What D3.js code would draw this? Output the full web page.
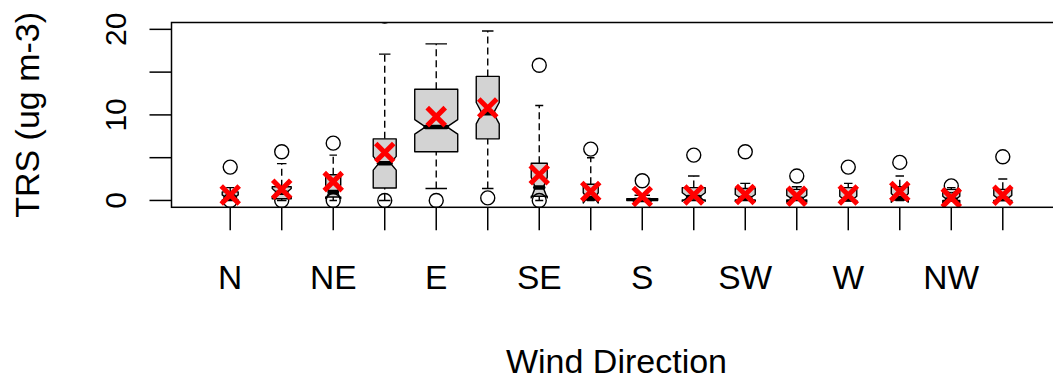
<!DOCTYPE html>
<html>
<head>
<meta charset="utf-8">
<script src="https://cdn.jsdelivr.net/npm/d3@7.9.0/dist/d3.min.js"></script>
<style>
  body { margin: 0; background: #fff; }
  svg { display: block; font-family: 'Liberation Sans', Arial, sans-serif; }
</style>
</head>
<body>
<div id="chart"></div>
<script>
// wind direction sectors, one box each
const directions = ['N', 'NNE', 'NE', 'ENE', 'E', 'ESE', 'SE', 'SSE', 'S', 'SSW', 'SW', 'WSW', 'W', 'WNW', 'NW', 'NNW'];
// only every other label fits, as in the R plot
const shownLabels = ['N', 'NE', 'E', 'SE', 'S', 'SW', 'W', 'NW'];

// box stats (ug m-3)
const whiskerLow  = [0,    0,    0,    0,    1.4,  1.4,  0,    0,    0,    0,    0,    0,    0,    0,    0,    0];
const lowerQ      = [0.05, 0.2,  0.4,  1.45, 5.7,  7.2,  0.5,  0.05, 0,    0.05, 0.05, 0.05, 0,    0.05, 0,    0];
const medians     = [0.3,  0.9,  1.0,  4.35, 8.6,  10.2, 1.5,  0.3,  0.05, 0.4,  0.3,  0.2,  0.1,  0.3,  0.1,  0.2];
const upperQ      = [1.0,  1.6,  3.0,  7.2,  13.0, 14.5, 4.35, 1.9,  0.2,  1.5,  1.4,  1.3,  1.5,  1.6,  1.3,  1.3];
const whiskerHigh = [1.5,  4.3,  5.3,  17.1, 18.3, 19.8, 11.1, 5.0,  0.6,  2.85, 2.0,  1.6,  2.0,  2.85, 1.5,  2.5];
const notchHalf   = [0.35, 0.5,  0.8,  0.8,  0.85, 1.25, 1.2,  0.6,  0.05, 0.5,  0.4,  0.4,  0.4,  0.5,  0.4,  0.4];
const means       = [0.65, 1.3,  2.2,  5.6,  9.8,  10.8, 3.0,  1.05, 0.45, 0.65, 0.7,  0.5,  0.65, 1.05, 0.3,  0.6];
const outliers    = [[0, 3.9], [0, 5.7], [0, 6.7], [0, 21.55], [0], [0.3], [0, 15.8], [6.0], [2.3],
                     [5.3], [5.7], [2.85], [3.9], [4.45], [1.7], [5.1]];
// relative box widths (varwidth)
const boxWidths   = [16, 19, 15, 23, 43, 23, 16, 15, 31, 23, 20, 20, 17, 17, 17, 18];

const yTicks = [0, 5, 10, 15, 20];
const yTickLabels = [0, 10, 20];

const width = 1053;
const height = 380;

const svg = d3.select('#chart')
  .append('svg')
  .attr('width', width)
  .attr('height', height);

// R: xlim = c(0.5, 16.5) extended by 4%, ylim = c(0, 20) extended by 4%
const xScale = d3.scaleLinear().domain([-0.14, 17.14]).range([171.5, 1061.5]);
const yScale = d3.scaleLinear().domain([-0.8, 20.8]).range([207.3, 22.5]);

const plot = { left: xScale.range()[0], right: xScale.range()[1], top: yScale.range()[1], bottom: yScale.range()[0] };

svg.append('defs').append('clipPath').attr('id', 'plot-clip')
  .append('rect')
  .attr('x', plot.left).attr('y', plot.top)
  .attr('width', plot.right - plot.left).attr('height', plot.bottom - plot.top);

const boxes = directions.map((dir, i) => ({
  dir,
  x: xScale(i + 1),
  lo: whiskerLow[i],
  q1: lowerQ[i],
  med: medians[i],
  q3: upperQ[i],
  hi: whiskerHigh[i],
  nLo: medians[i] - notchHalf[i],
  nHi: medians[i] + notchHalf[i],
  mean: means[i],
  out: outliers[i],
  wid: boxWidths[i] / 2,
}));

const g = svg.append('g').attr('clip-path', 'url(#plot-clip)');

const box = g.selectAll('g.box')
  .data(boxes)
  .join('g')
  .attr('class', 'box');

// whiskers (dashed)
box.append('line')
  .attr('x1', d => d.x).attr('x2', d => d.x)
  .attr('y1', d => yScale(d.lo)).attr('y2', d => yScale(d.q1))
  .attr('stroke', '#000').attr('stroke-width', 1.4).attr('stroke-dasharray', '7,4');
box.append('line')
  .attr('x1', d => d.x).attr('x2', d => d.x)
  .attr('y1', d => yScale(d.q3)).attr('y2', d => yScale(d.hi))
  .attr('stroke', '#000').attr('stroke-width', 1.4).attr('stroke-dasharray', '7,4');

// staples
box.selectAll('line.staple')
  .data(d => [d.lo, d.hi].map(v => ({ x: d.x, w: d.wid / 2, v })))
  .join('line')
  .attr('class', 'staple')
  .attr('x1', d => d.x - d.w).attr('x2', d => d.x + d.w)
  .attr('y1', d => yScale(d.v)).attr('y2', d => yScale(d.v))
  .attr('stroke', '#000').attr('stroke-width', 1.4);

// notched box, same vertex order as R's bxp
const xOff = [-1, 1, 1, 0.5, 1, 1, -1, -1, -0.5, -1];
box.append('polygon')
  .attr('points', d => {
    const ys = [d.q1, d.q1, d.nLo, d.med, d.nHi, d.q3, d.q3, d.nHi, d.med, d.nLo];
    return ys.map((v, k) => [d.x + xOff[k] * d.wid, yScale(v)].join(',')).join(' ');
  })
  .attr('fill', '#d3d3d3')
  .attr('stroke', '#000')
  .attr('stroke-width', 1.4)
  .attr('stroke-linejoin', 'round');

// median
box.append('line')
  .attr('x1', d => d.x - d.wid / 2).attr('x2', d => d.x + d.wid / 2)
  .attr('y1', d => yScale(d.med)).attr('y2', d => yScale(d.med))
  .attr('stroke', '#000').attr('stroke-width', 4.5).attr('stroke-linecap', 'round');

// outliers, pch = 1
box.selectAll('circle')
  .data(d => d.out.map(v => ({ x: d.x, v })))
  .join('circle')
  .attr('cx', d => d.x)
  .attr('cy', d => yScale(d.v))
  .attr('r', 7)
  .attr('fill', 'none')
  .attr('stroke', '#000')
  .attr('stroke-width', 1.4);

// means, red pch = 4
const s = 9;
box.selectAll('path.mean')
  .data(d => [d])
  .join('path')
  .attr('class', 'mean')
  .attr('d', d => {
    const cx = d.x, cy = yScale(d.mean);
    return `M${cx - s},${cy - s}L${cx + s},${cy + s}M${cx - s},${cy + s}L${cx + s},${cy - s}`;
  })
  .attr('stroke', '#ff0000')
  .attr('stroke-width', 5)
  .attr('fill', 'none');

// plot frame (right side falls outside the window)
svg.append('rect')
  .attr('x', plot.left).attr('y', plot.top)
  .attr('width', plot.right - plot.left).attr('height', plot.bottom - plot.top)
  .attr('fill', 'none').attr('stroke', '#000').attr('stroke-width', 1.5);

// y axis ticks
const tickLen = 22;
svg.selectAll('line.ytick')
  .data(yTicks)
  .join('line')
  .attr('class', 'ytick')
  .attr('x1', plot.left - tickLen).attr('x2', plot.left)
  .attr('y1', d => yScale(d)).attr('y2', d => yScale(d))
  .attr('stroke', '#000').attr('stroke-width', 1.5);

svg.selectAll('text.ylab')
  .data(yTickLabels)
  .join('text')
  .attr('class', 'ylab')
  .attr('transform', d => `translate(126, ${yScale(d)}) rotate(-90)`)
  .attr('text-anchor', 'middle')
  .attr('font-size', 30)
  .text(d => d);

// x axis ticks
svg.selectAll('line.xtick')
  .data(directions)
  .join('line')
  .attr('class', 'xtick')
  .attr('x1', (d, i) => xScale(i + 1)).attr('x2', (d, i) => xScale(i + 1))
  .attr('y1', plot.bottom).attr('y2', plot.bottom + 23)
  .attr('stroke', '#000').attr('stroke-width', 1.5);

svg.selectAll('text.xlab')
  .data(directions)
  .join('text')
  .attr('class', 'xlab')
  .attr('x', (d, i) => xScale(i + 1))
  .attr('y', 289)
  .attr('text-anchor', 'middle')
  .attr('font-size', 33.5)
  .text(d => shownLabels.includes(d) ? d : '');

// axis titles
svg.append('text')
  .attr('x', (plot.left + plot.right) / 2)
  .attr('y', 373)
  .attr('text-anchor', 'middle')
  .attr('font-size', 34)
  .text('Wind Direction');

svg.append('text')
  .attr('transform', `translate(39, ${(plot.top + plot.bottom) / 2}) rotate(-90)`)
  .attr('text-anchor', 'middle')
  .attr('font-size', 34)
  .text('TRS (ug m-3)');
</script>
</body>
</html>
